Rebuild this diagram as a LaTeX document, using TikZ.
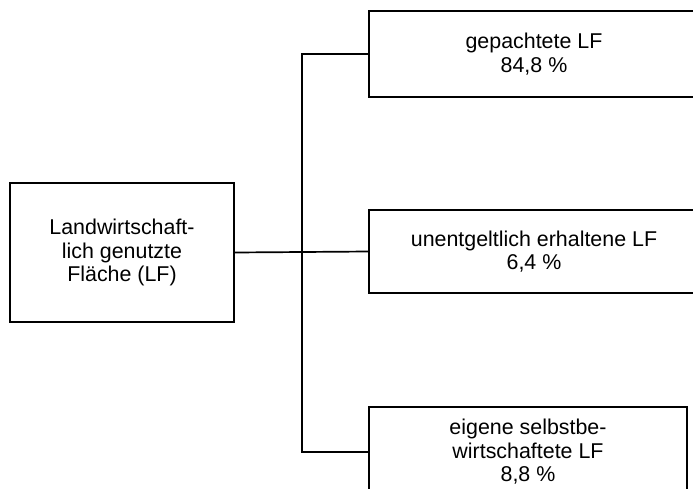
\documentclass[tikz,border=0pt]{standalone}
\usepackage{fontspec}
\setmainfont{Liberation Sans}
\begin{document}
\begin{tikzpicture}[x=1pt,y=-1pt,line width=1.7pt,
  box/.style={draw,rectangle,inner sep=0pt,align=center,
    font=\fontsize{21.4}{23.5}\selectfont}]
\clip (0,0) rectangle (693,488);
%\draw[step=50,gray,very thin] (0,0) grid (693,488);
\node[box,minimum width=224pt,minimum height=139pt] (lf) at (122,252.5) {Landwirtschaft-\\lich genutzte\\Fläche (LF)};
\node[box,minimum width=330pt,minimum height=86pt] (pacht) at (534,54) {gepachtete LF\\84,8 \%};
\node[box,minimum width=330pt,minimum height=83pt] (frei) at (534,251.5) {unentgeltlich erhaltene LF\\6,4 \%};
\node[box,minimum width=318pt,minimum height=90pt] (eigen) at (528,452) {eigene selbstbe-\\wirtschaftete LF\\8,8 \%};
\coordinate (fork) at (302,252);
\draw (pacht.west) -| (fork) |- (eigen.west);
\draw (lf.east) -- (fork) -- (frei.west);
\end{tikzpicture}
\end{document}
